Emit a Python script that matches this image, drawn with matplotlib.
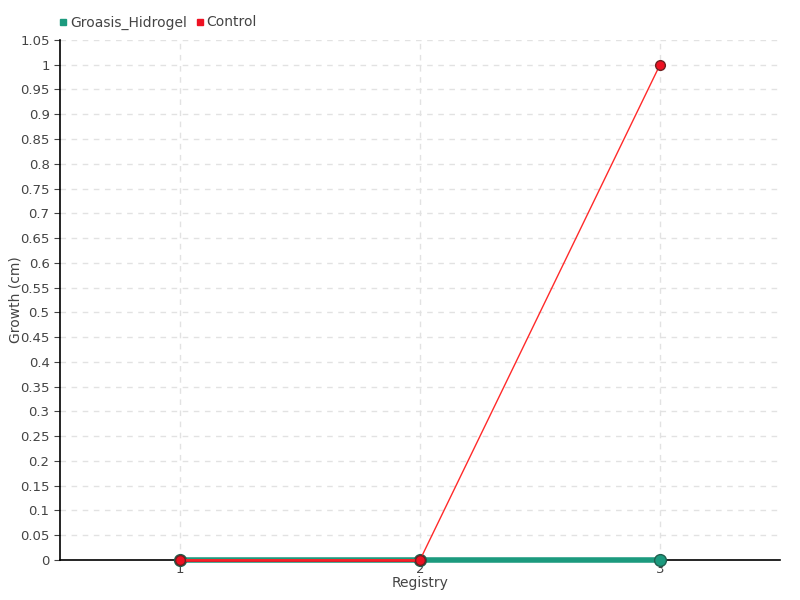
import numpy as np
import matplotlib.pyplot as plt

registry = [1, 2, 3]
groasis = [0, 0, 0]
control = [0, 0, 1]
yticks = np.round(np.arange(0, 1.0501, 0.05), 2)

fig = plt.figure(figsize=(8, 6), dpi=100)
ax = fig.add_axes([0.075, 0.0667, 0.9, 0.8667])

ax.plot(registry, groasis, color="#1c9a7e", lw=4, marker="o", ms=8.5,
        mfc="#1c9a7e", mec="#20604f", mew=1, zorder=3, clip_on=False,
        label="Groasis_Hidrogel")
ax.plot(registry, control, color="#ff2a2a", lw=1, marker="o", ms=7,
        mfc="#ee1122", mec="#702020", mew=1, zorder=4, clip_on=False,
        label="Control")
# thicker red between first two points (overlaps green)
ax.plot(registry[:2], control[:2], color="#ee1122", lw=2, zorder=3.5, clip_on=False)

ax.set_xlim(0.5, 3.5)
ax.set_ylim(0, 1.05)
ax.set_xticks(registry)
ax.set_yticks(yticks)
ax.set_yticklabels([("%g" % v) for v in yticks])
ax.grid(True, color="#e2e2e2", ls=(0, (4, 4)), lw=1)
ax.set_axisbelow(True)
for s in ["top", "right"]:
    ax.spines[s].set_visible(False)
ax.spines["left"].set_linewidth(1.2)
ax.spines["bottom"].set_linewidth(1.2)
ax.tick_params(axis="both", labelsize=9.5, colors="#444444", length=4)
ax.tick_params(axis="x", direction="inout", length=8, pad=-2)
ax.set_xlabel("Registry", fontsize=10, color="#444444", labelpad=0)
ax.set_ylabel("Growth (cm)", fontsize=10, color="#444444")
ax.yaxis.set_label_coords(-0.052, 0.5)

h = [plt.Line2D([], [], ls="", marker="s", ms=5, color="#1c9a7e"),
     plt.Line2D([], [], ls="", marker="s", ms=5, color="#ee1122")]
fig.legend(h, ["Groasis_Hidrogel", "Control"], loc="upper left",
           bbox_to_anchor=(0.055, 0.995), ncol=2, frameon=False,
           fontsize=10, handletextpad=0.0, columnspacing=0.4,
           labelcolor="#444444", handlelength=1)

fig.savefig("out.png", dpi=100)
